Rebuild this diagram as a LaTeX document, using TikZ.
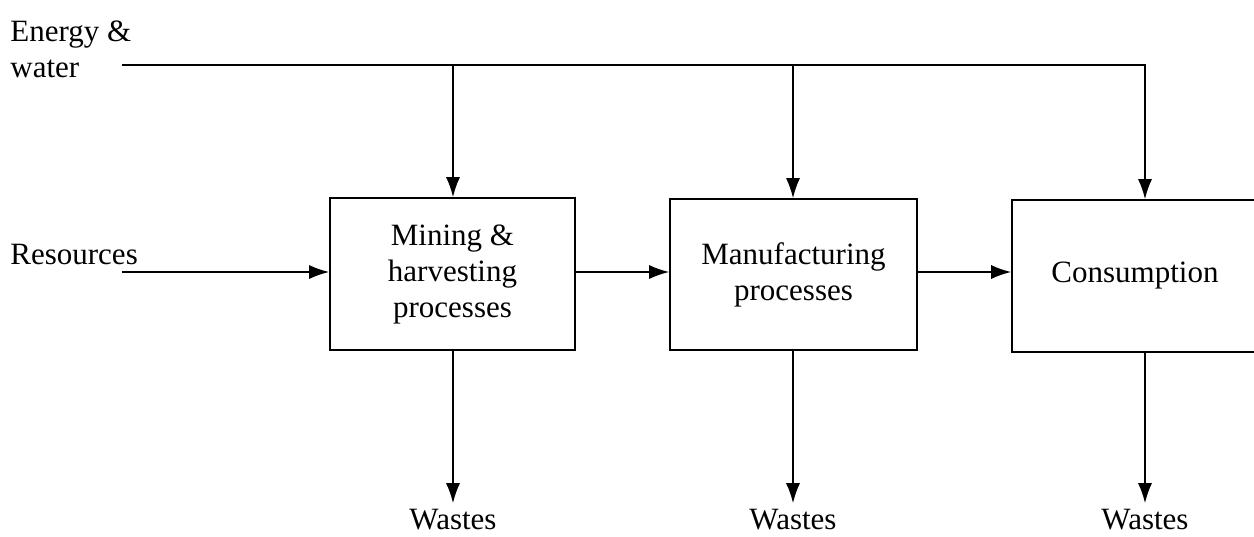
\documentclass[tikz,border=0pt]{standalone}
\usepackage{fontspec}
\setmainfont{Liberation Serif}
\usetikzlibrary{arrows.meta,positioning}

\begin{document}
\begin{tikzpicture}[x=0.5pt,y=0.5pt,
  stage/.style={draw,line width=0.8pt,align=center,font=\fontsize{15.5}{18}\selectfont},
  lbl/.style={align=left,font=\fontsize{15.5}{18}\selectfont,inner sep=0pt},
  flow/.style={line width=0.8pt,-{Latex[length=10pt,width=7pt]}}]
\useasboundingbox (0,0) rectangle (1254,-536);
\node[stage,minimum width=122.5pt,minimum height=76pt] (M) at (452.5,-274) {Mining \&\\harvesting\\processes};
\node[stage,minimum width=123.5pt,minimum height=75.5pt] (P) at (793.5,-274.5) {Manufacturing\\processes};
\node[stage,minimum width=129pt,minimum height=76pt,text width=115pt] (C) at (1141,-276) {\hspace*{-6pt}Consumption};
\node[lbl,anchor=north west] (EW) at (10,-20) {Energy \&\\water};
\node[lbl,anchor=west] (R) at (10,-254) {Resources};
\coordinate (ewin) at (122,-65);
\coordinate (resin) at (122,-272);
\coordinate (top1) at (453,-65);
\coordinate (top2) at (793,-65);
\coordinate (top3) at (1145,-65);
\node[lbl] (W1) at (453,-520) {Wastes};
\node[lbl] (W2) at (793,-520) {Wastes};
\node[lbl] (W3) at (1145,-520) {Wastes};
% supply lines
\draw[flow] (ewin) -- (top3) -- (top3 |- C.north);
\draw[flow] (top1) -- (top1 |- M.north);
\draw[flow] (top2) -- (top2 |- P.north);
\draw[flow] (resin) -- (resin -| M.west);
\path (M.east |- resin) edge[flow] (P.west |- resin);
\path (P.east |- resin) edge[flow] (C.west |- resin);
% wastes
\draw[flow] (W1 |- M.south) -- ([yshift=3pt]W1.north);
\draw[flow] (W2 |- P.south) -- ([yshift=3pt]W2.north);
\draw[flow] (W3 |- C.south) -- ([yshift=3pt]W3.north);
\end{tikzpicture}
\end{document}
